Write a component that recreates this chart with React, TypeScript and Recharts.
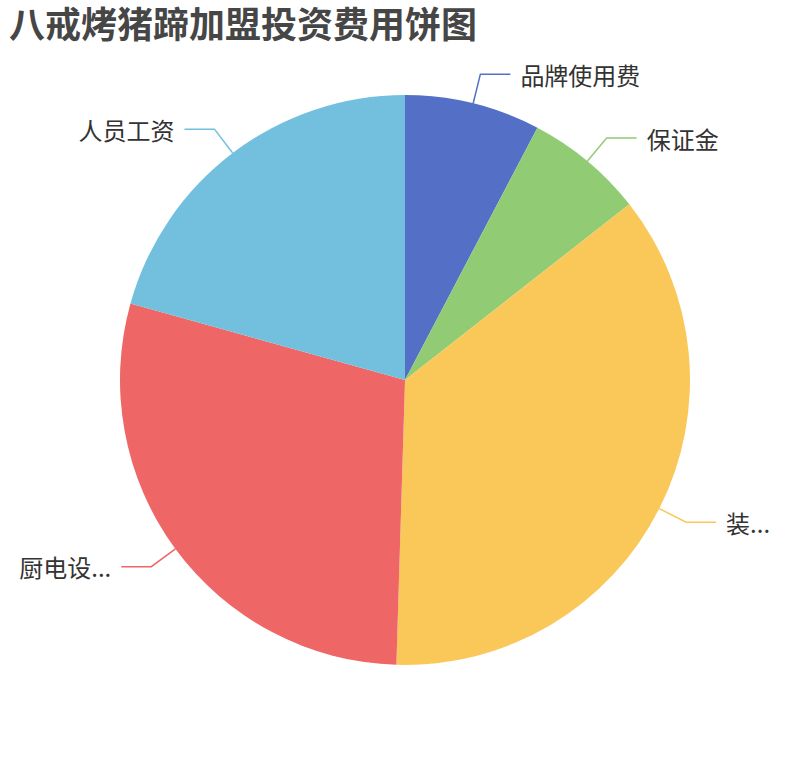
import React from 'react';
import { PieChart, Pie, Cell } from 'recharts';

const TITLE = '八戒烤猪蹄加盟投资费用饼图';
const categories = ['品牌使用费', '保证金', '装...', '厨电设...', '人员工资'];
const values = [8000, 7000, 37500, 30000, 21500];
const colors = ['#5470c6', '#91cc75', '#fac858', '#ee6666', '#73c0de'];

const data = categories.map((name, i) => ({ name, value: values[i] }));

const RADIAN = Math.PI / 180;
const FONT = '"Noto Sans CJK SC", "Noto Sans", sans-serif';

const renderLabel = (props: any) => {
  const { cx, cy, midAngle, outerRadius, index } = props;
  const c = Math.cos(-midAngle * RADIAN);
  const s = Math.sin(-midAngle * RADIAN);
  const x1 = cx + outerRadius * c;
  const y1 = cy + outerRadius * s;
  const r2 = outerRadius + 30;
  const x2 = cx + r2 * c;
  const y2 = cy + r2 * s;
  const right = c >= 0;
  const x3 = x2 + (right ? 30 : -30);
  const tx = x3 + (right ? 10 : -10);
  const color = colors[index];
  return (
    <g key={`lbl-${index}`}>
      <polyline
        points={`${x1},${y1} ${x2},${y2} ${x3},${y2}`}
        fill="none"
        stroke={color}
        strokeWidth={1.5}
      />
      <text
        x={tx}
        y={y2}
        textAnchor={right ? 'start' : 'end'}
        dominantBaseline="central"
        fill="#333"
        fontSize={24}
        fontFamily={FONT}
      >
        {categories[index]}
      </text>
    </g>
  );
};

export default function App() {
  return (
    <div style={{ position: 'absolute', left: 0, top: 0, width: 810, height: 760, background: '#fff' }}>
      <svg
        width={810}
        height={60}
        style={{ position: 'absolute', left: 0, top: 0, zIndex: 2 }}
      >
        <text
          x={9}
          y={38}
          fontSize={36}
          fontWeight="bold"
          fill="#464646"
          fontFamily={FONT}
        >
          {TITLE}
        </text>
      </svg>
      <PieChart width={810} height={760} margin={{ top: 0, right: 0, bottom: 0, left: 0 }}>
        <Pie
          data={data}
          dataKey="value"
          nameKey="name"
          cx={405}
          cy={380}
          outerRadius={285}
          innerRadius={0}
          startAngle={90}
          endAngle={-270}
          stroke="none"
          label={renderLabel}
          labelLine={false}
          isAnimationActive={false}
        >
          {data.map((d, i) => (
            <Cell key={d.name} fill={colors[i]} />
          ))}
        </Pie>
      </PieChart>
    </div>
  );
}
